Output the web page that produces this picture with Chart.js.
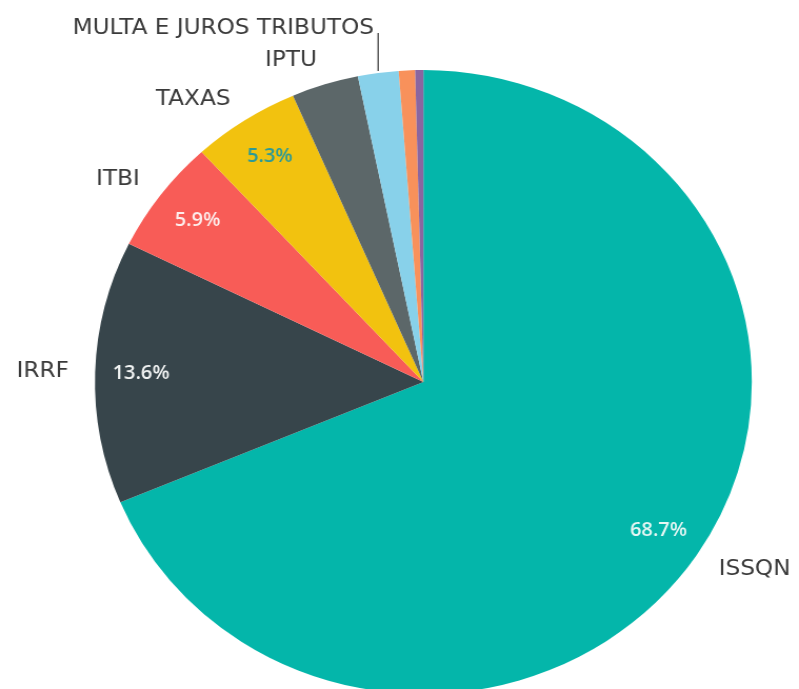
<!DOCTYPE html>
<html>
<head>
<meta charset="utf-8">
<script src="https://cdn.jsdelivr.net/npm/chart.js@4"></script>
<style>
  html, body { margin: 0; padding: 0; background: #fff; overflow: hidden; }
  #wrap { width: 799px; height: 689px; overflow: hidden; position: relative; }
  #c { position: absolute; left: 0; top: 0; transform-origin: 0 0; transform: scaleX(1.0527); }
</style>
</head>
<body>
<div id="wrap"><canvas id="c" width="759" height="720"></canvas></div>
<script>
const categories = ["ISSQN", "IRRF", "ITBI", "TAXAS", "IPTU", "MULTA E JUROS TRIBUTOS", "OUTROS 1", "OUTROS 2"];
const values = [68.7, 13.6, 5.9, 5.3, 3.3, 2.0, 0.8, 0.4];
const showName = [true, true, true, true, true, true, false, false];
const showPct = [true, true, true, true, false, false, false, false];
const colors = ["#04B6AA", "#37454B", "#F85C57", "#F2C20F", "#5C6769", "#88D1EA", "#F8915B", "#8A66A0"];
const pctColors = ["#E6F7F4", "#F2F4F4", "#FDEDEC", "#2C9A96"];

const labelPlugin = {
  id: 'qlikLabels',
  afterDatasetsDraw(chart) {
    const ctx = chart.ctx;
    const meta = chart.getDatasetMeta(0);
    const total = values.reduce((a, b) => a + b, 0);
    ctx.save();
    meta.data.forEach((arc, i) => {
      const p = arc.getProps(['x', 'y', 'startAngle', 'endAngle', 'outerRadius'], true);
      const mid = (p.startAngle + p.endAngle) / 2;
      const cx = Math.cos(mid), cy = Math.sin(mid);
      if (showPct[i]) {
        const r = p.outerRadius * 0.86;
        ctx.font = '600 19px "Open Sans", sans-serif';
        ctx.fillStyle = pctColors[i];
        ctx.textAlign = 'center';
        ctx.textBaseline = 'middle';
        ctx.fillText((values[i] / total * 100).toFixed(1) + '%', p.x + cx * r, p.y + cy * r);
      }
      if (showName[i]) {
        ctx.font = '22px "DejaVu Sans", sans-serif';
        ctx.fillStyle = '#3a3a3a';
        if (categories[i] === "MULTA E JUROS TRIBUTOS") {
          const ex = p.x + cx * p.outerRadius;
          const ey = p.y + cy * p.outerRadius - 2;
          const top = ey - 38;
          ctx.strokeStyle = '#444';
          ctx.lineWidth = 1.3;
          ctx.beginPath();
          ctx.moveTo(ex, ey);
          ctx.lineTo(ex, top);
          ctx.stroke();
          ctx.textAlign = 'right';
          ctx.textBaseline = 'alphabetic';
          ctx.fillText(categories[i], ex - 4, top + 1);
        } else {
          const r = p.outerRadius + 25;
          ctx.textAlign = cx >= 0 ? 'left' : 'right';
          ctx.textBaseline = 'middle';
          ctx.fillText(categories[i], p.x + cx * r, p.y + cy * r);
        }
      }
    });
    ctx.restore();
  }
};

new Chart(document.getElementById('c'), {
  type: 'pie',
  data: {
    labels: categories,
    datasets: [{
      data: values,
      backgroundColor: colors,
      borderWidth: 0
    }]
  },
  options: {
    responsive: false,
    animation: false,
    devicePixelRatio: 1,
    layout: { padding: { left: 90, right: 44.6, top: 70, bottom: 26 } },
    plugins: { legend: { display: false }, tooltip: { enabled: false } }
  },
  plugins: [labelPlugin]
});
</script>
</body>
</html>
